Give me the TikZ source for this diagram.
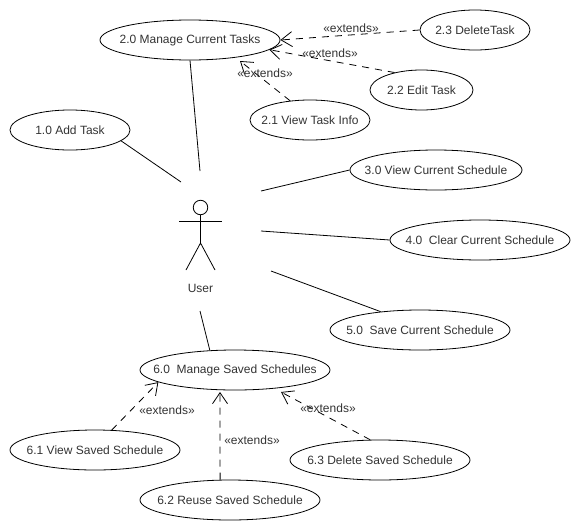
\documentclass[tikz,border=0pt]{standalone}
\usepackage{fontspec}
\setmainfont{Liberation Sans}
\usetikzlibrary{arrows.meta, positioning, shapes.geometric}
\definecolor{labeltext}{HTML}{333333}
\newcommand{\uclabel}[1]{\makebox[0pt]{\raisebox{-1pt}{#1}}}

\begin{document}
\begin{tikzpicture}[x=1pt, y=-1pt, line width=0.8pt, every node/.style={font=\fontsize{12}{14}\selectfont, text=labeltext},
	usecase/.style={draw, ellipse, inner sep=0pt, minimum height=40pt},
	assoc/.style={line width=0.8pt},
	ext/.style={dashed, dash pattern=on 7pt off 6pt, line width=0.8pt, -{Straight Barb[length=11pt, width=15pt, line width=0.8pt]}},
	extlabel/.style={inner sep=0pt}]

	\useasboundingbox (0,0) rectangle (580,530);

	% actor
	\node [draw, circle, inner sep=0pt, minimum size=14.5pt] (head) at (200.5,207.5) {};
	\node (U) at (200.5,288) {User};
	\coordinate (hip) at (200.5,243);
	\coordinate (handL) at (179,221);
	\coordinate (handR) at (222,221);
	\coordinate (footL) at (186,270);
	\coordinate (footR) at (215,270);
	\draw (head.south) -- (hip);
	\draw (handL) -- (handR);
	\draw (footL) -- (hip) -- (footR);

	% use cases
	\node [usecase, minimum width=180pt] (MCT) at (190,40) {\uclabel{2.0 Manage Current Tasks}};
	\node [usecase, minimum width=120pt] (AT) at (70,130) {\uclabel{1.0 Add Task}};
	\node [usecase, minimum width=110pt] (DT) at (475,30) {\uclabel{2.3 DeleteTask}};
	\node [usecase, minimum width=103pt] (ET) at (421.5,90) {\uclabel{2.2 Edit Task}};
	\node [usecase, minimum width=120pt] (VTI) at (310,120) {\uclabel{2.1 View Task Info}};
	\node [usecase, minimum width=172pt] (VCS) at (436,170) {\uclabel{3.0 View Current Schedule}};
	\node [usecase, minimum width=180pt] (CCS) at (480,240) {\uclabel{4.0\ \ Clear Current Schedule}};
	\node [usecase, minimum width=180pt] (SCS) at (420,330) {\uclabel{5.0\ \ Save Current Schedule}};
	\node [usecase, minimum width=190pt] (MSS) at (235,370) {\uclabel{6.0\ \ Manage Saved Schedules}};
	\node [usecase, minimum width=170pt] (VSS) at (95,450) {\uclabel{6.1 View Saved Schedule}};
	\node [usecase, minimum width=180pt] (RSS) at (230,500) {\uclabel{6.2 Reuse Saved Schedule}};
	\node [usecase, minimum width=180pt] (DSS) at (380,460) {\uclabel{6.3 Delete Saved Schedule}};

	% free ends round the actor
	\coordinate (toMCT) at (200,171);
	\coordinate (toAT) at (181,182);
	\coordinate (toVCS) at (261,191);
	\coordinate (toCCS) at (261,231);
	\coordinate (toSCS) at (271,271);
	\coordinate (toMSS) at (200,311);

	% tips that stop short of the ellipse
	\coordinate (tipVTI) at (240,61);
	\coordinate (tipRSS) at (220,392);
	\coordinate (tipDSS) at (281,392);

	\draw[assoc] (MCT.south) -- (toMCT);
	\draw[assoc] (AT.-12) -- (toAT);
	\draw[assoc] (VCS.west) -- (toVCS);
	\draw[assoc] (CCS.west) -- (toCCS);
	\draw[assoc] (SCS.155) -- (toSCS);
	\draw[assoc] (MSS.142) -- (toMSS);

	\draw[ext] (DT.west) -- (MCT.east);
	\draw[ext] (ET.147) -- (MCT.-7);
	\draw[ext] (VTI.136) -- (tipVTI);
	\draw[ext] (VSS.50) -- (MSS.-171);
	\draw[ext] (RSS.116.6) -- (tipRSS);
	\draw[ext] (DSS.116.6) -- (tipDSS);

	\node [extlabel] (E1) at (351,28) {«extends»};
	\node [extlabel] (E2) at (330,53) {«extends»};
	\node [extlabel] (E3) at (265,73) {«extends»};
	\node [extlabel] (E4) at (167,410) {«extends»};
	\node [extlabel] (E5) at (252,440) {«extends»};
	\node [extlabel] (E6) at (328,408) {«extends»};
\end{tikzpicture}
\end{document}
